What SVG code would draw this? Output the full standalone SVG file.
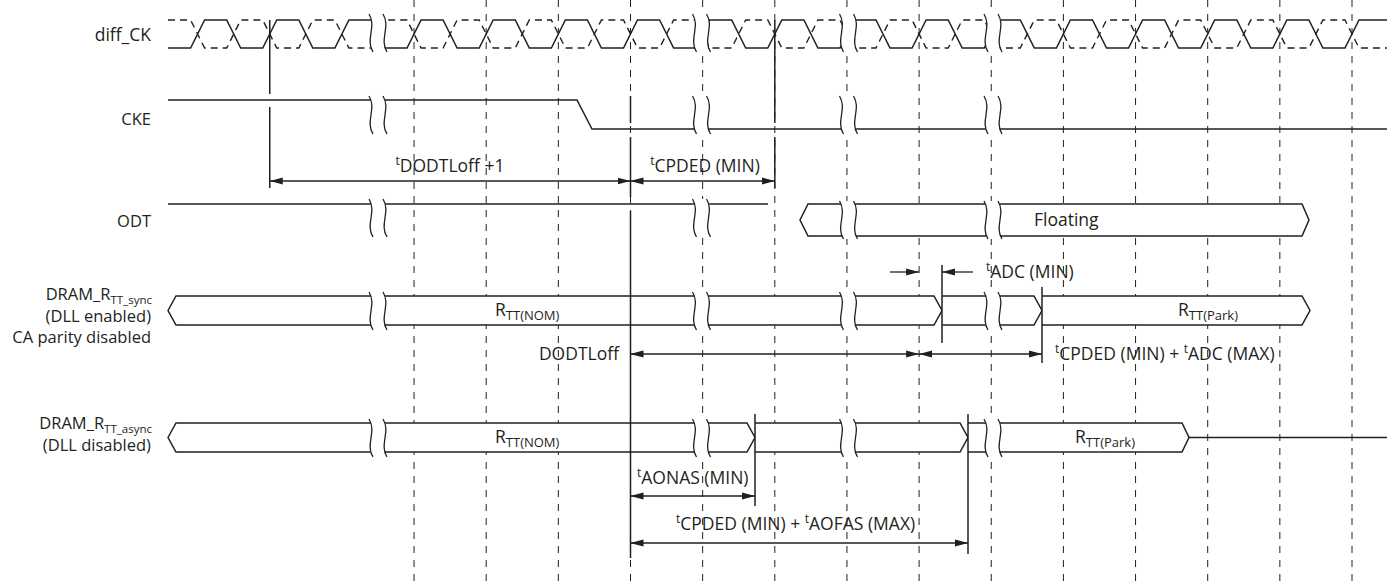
<svg xmlns="http://www.w3.org/2000/svg" xmlns:xlink="http://www.w3.org/1999/xlink" width="1387" height="582" viewBox="0 0 1387 582">
<style>
.sig{fill:none;stroke:#231f20;stroke-width:1.5}
.ckb{fill:none;stroke:#231f20;stroke-width:1.4;stroke-dasharray:7 5}
.bus{fill:#fff;stroke:#231f20;stroke-width:1.5}
.guide{fill:none;stroke:#231f20;stroke-width:1;stroke-dasharray:7 7}
.tl{fill:none;stroke:#231f20;stroke-width:1.5}
.arr{fill:none;stroke:#231f20;stroke-width:1.3;marker-start:url(#ah);marker-end:url(#ah)}
.arr1{fill:none;stroke:#231f20;stroke-width:1.3;marker-end:url(#ah)}
text{font-family:"Open Sans","Liberation Sans",sans-serif;font-size:16.5px;fill:#231f20}
.ann{font-size:17.5px}
.lbl{text-anchor:end}
.mid{text-anchor:middle}
.sub{font-size:11.5px}
.bsub{font-size:13px}
.sup{font-size:12px}
</style>
<defs>
<marker id="ah" viewBox="0 0 13 8" refX="13" refY="4" markerWidth="13" markerHeight="8" markerUnits="userSpaceOnUse" orient="auto-start-reverse">
<path d="M0,0.5 L13,4 L0,7.5 Z" fill="#231f20"/>
</marker>
<g id="brk">
<path d="M-9,0 C-1,13 -13,25 -5,38 L9,38 C1,25 13,13 5,0 Z" fill="#fff" stroke="none"/>
<path d="M-9,0 C-1,13 -13,25 -5,38 M5,0 C13,13 1,25 9,38" fill="none" stroke="#231f20" stroke-width="1.3"/>
</g>
</defs>
<rect width="1387" height="582" fill="#fff"/>

<g id="guides">
<path class="guide" d="M414.05,0V582M486.2,0V582M558.35,0V582M630.5,0V582M702.65,0V582M774.8,0V582M846.95,0V582M919.1,0V582M991.25,0V582M1063.4,0V582M1135.55,0V582M1207.7,0V582M1279.85,0V582M1352,0V582"/>
</g>

<g id="diff_CK">
<path class="ckb" d="M168,20 L190.6,20 L204.6,48 L226.7,48 L240.7,20 L262.75,20 L276.75,48 L298.8,48 L312.8,20 L334.9,20 L348.9,48 L371,48 L385,20 L407.05,20 L421.05,48 L443.1,48 L457.1,20 L479.2,20 L493.2,48 L515.3,48 L529.3,20 L551.35,20 L565.35,48 L587.4,48 L601.4,20 L623.5,20 L637.5,48 L659.6,48 L673.6,20 L695.65,20 L709.65,48 L731.7,48 L745.7,20 L767.8,20 L781.8,48 L803.9,48 L817.9,20 L839.95,20 L853.95,48 L876,48 L890,20 L912.1,20 L926.1,48 L948.2,48 L962.2,20 L984.25,20 L998.25,48 L1020.3,48 L1034.3,20 L1056.4,20 L1070.4,48 L1092.5,48 L1106.5,20 L1128.55,20 L1142.55,48 L1164.6,48 L1178.6,20 L1200.7,20 L1214.7,48 L1236.8,48 L1250.8,20 L1272.85,20 L1286.85,48 L1308.9,48 L1322.9,20 L1345,20 L1359,48 L1387,48"/>
<path class="sig" d="M168,48 L190.6,48 L204.6,20 L226.7,20 L240.7,48 L262.75,48 L276.75,20 L298.8,20 L312.8,48 L334.9,48 L348.9,20 L371,20 L385,48 L407.05,48 L421.05,20 L443.1,20 L457.1,48 L479.2,48 L493.2,20 L515.3,20 L529.3,48 L551.35,48 L565.35,20 L587.4,20 L601.4,48 L623.5,48 L637.5,20 L659.6,20 L673.6,48 L695.65,48 L709.65,20 L731.7,20 L745.7,48 L767.8,48 L781.8,20 L803.9,20 L817.9,48 L839.95,48 L853.95,20 L876,20 L890,48 L912.1,48 L926.1,20 L948.2,20 L962.2,48 L984.25,48 L998.25,20 L1020.3,20 L1034.3,48 L1056.4,48 L1070.4,20 L1092.5,20 L1106.5,48 L1128.55,48 L1142.55,20 L1164.6,20 L1178.6,48 L1200.7,48 L1214.7,20 L1236.8,20 L1250.8,48 L1272.85,48 L1286.85,20 L1308.9,20 L1322.9,48 L1345,48 L1359,20 L1387,20"/>
<use xlink:href="#brk" x="378" y="14"/>
<use xlink:href="#brk" x="701.5" y="14"/>
<use xlink:href="#brk" x="848.5" y="14"/>
<use xlink:href="#brk" x="993" y="14"/>
<text class="lbl" x="151" y="41" style="font-size:17.5px">diff_CK</text>
</g>

<g id="CKE">
<path class="sig" d="M168,100 L577,100 L592,129 L1387,129"/>
<use xlink:href="#brk" x="378" y="96"/>
<use xlink:href="#brk" x="701.5" y="96"/>
<use xlink:href="#brk" x="848.5" y="96"/>
<use xlink:href="#brk" x="993" y="96"/>
<text class="lbl" x="151" y="125">CKE</text>
</g>

<g id="ODT">
<path class="sig" d="M168,204 L768,204"/>
<path class="bus" d="M800,220 L808,204 L1302,204 L1309,220 L1302,236 L808,236 Z"/>
<use xlink:href="#brk" x="378" y="199"/>
<use xlink:href="#brk" x="701.5" y="199"/>
<use xlink:href="#brk" x="848.5" y="201"/>
<use xlink:href="#brk" x="993" y="201"/>
<text class="ann" x="1034" y="226">Floating</text>
<text class="lbl" x="151" y="227">ODT</text>
</g>

<g id="RTT_sync">
<path class="bus" d="M168,310.5 L176,296 L934,296 L942,310.5 L934,325 L176,325 Z"/>
<path class="bus" d="M942,296 L1034,296 L1042,310.5 L1034,325 L942,325"/>
<path class="bus" d="M1042,296 L1302,296 L1310,310.5 L1302,325 L1042,325"/>
<use xlink:href="#brk" x="378" y="292"/>
<use xlink:href="#brk" x="701.5" y="292"/>
<use xlink:href="#brk" x="848.5" y="292"/>
<use xlink:href="#brk" x="993" y="292"/>
<text class="ann" x="495" y="316">R<tspan class="bsub" dy="4">TT(NOM)</tspan></text>
<text class="ann" x="1178" y="316">R<tspan class="bsub" dy="4">TT(Park)</tspan></text>
<text class="lbl" x="152" y="300">DRAM_R<tspan class="sub" dy="4">TT_sync</tspan></text>
<text class="lbl" x="151" y="322">(DLL enabled)</text>
<text class="lbl" x="151" y="343">CA parity disabled</text>
</g>

<g id="RTT_async">
<path class="bus" d="M168,437.5 L176,423 L747,423 L755,437.5 L747,452 L176,452 Z"/>
<path class="bus" d="M755,423 L960,423 L968,437.5 L960,452 L755,452"/>
<path class="bus" d="M968,423 L1182,423 L1189,437.5 L1182,452 L968,452"/>
<path class="sig" d="M1189,437.5 L1387,437.5"/>
<use xlink:href="#brk" x="378" y="419"/>
<use xlink:href="#brk" x="701.5" y="419"/>
<use xlink:href="#brk" x="848.5" y="419"/>
<use xlink:href="#brk" x="993" y="419"/>
<text class="ann" x="495" y="443">R<tspan class="bsub" dy="4">TT(NOM)</tspan></text>
<text class="ann" x="1075" y="443">R<tspan class="bsub" dy="4">TT(Park)</tspan></text>
<text class="lbl" x="152" y="429">DRAM_R<tspan class="sub" dy="4">TT_async</tspan></text>
<text class="lbl" x="151" y="451">(DLL disabled)</text>
</g>

<g id="connectors">
<path class="tl" d="M269.75,20V94M269.75,107V188M630.5,96V123M630.5,137V197M630.5,211V558M774.8,20V123M774.8,137V188M942,265V343M1042,287V363M755,414V506M968,414V554"/>
<path class="arr" d="M269.75,181H630.5"/>
<path class="arr" d="M630.5,181H774.8"/>
<path class="arr" d="M630.5,354H919.1"/>
<path class="arr" d="M919.1,354H1042"/>
<path class="arr1" d="M890,272H919.1"/>
<path class="arr1" d="M973,272H942"/>
<path class="arr" d="M630.5,496H755"/>
<path class="arr" d="M630.5,543H968"/>
<text class="ann mid" x="450" y="172"><tspan class="sup" dy="-7">t</tspan><tspan dy="7">DODTLoff +1</tspan></text>
<text class="ann mid" x="705" y="172"><tspan class="sup" dy="-7">t</tspan><tspan dy="7">CPDED (MIN)</tspan></text>
<text class="ann" x="986" y="278"><tspan class="sup" dy="-7">t</tspan><tspan dy="7">ADC (MIN)</tspan></text>
<text class="ann lbl" x="619" y="360">DODTLoff</text>
<text class="ann" x="1055" y="360"><tspan class="sup" dy="-7">t</tspan><tspan dy="7">CPDED (MIN) + </tspan><tspan class="sup" dy="-7">t</tspan><tspan dy="7">ADC (MAX)</tspan></text>
<text class="ann" x="637" y="484"><tspan class="sup" dy="-7">t</tspan><tspan dy="7">AONAS (MIN)</tspan></text>
<text class="ann" x="676" y="530"><tspan class="sup" dy="-7">t</tspan><tspan dy="7">CPDED (MIN) + </tspan><tspan class="sup" dy="-7">t</tspan><tspan dy="7">AOFAS (MAX)</tspan></text>
</g>
</svg>
